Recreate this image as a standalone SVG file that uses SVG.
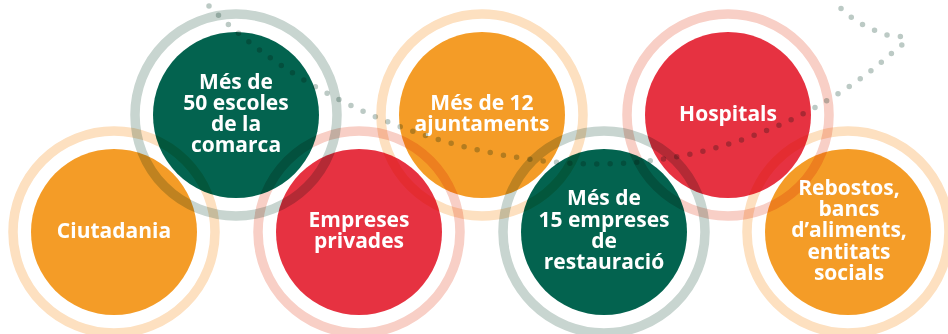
<svg xmlns="http://www.w3.org/2000/svg" width="948" height="334" viewBox="0 0 948 334">
<style>
.fill{mix-blend-mode:multiply}
.ring{fill:none;stroke-width:9.5;mix-blend-mode:multiply}
.o .fill{fill:#F49C27}.o .ring{stroke:#FDE0C0}
.r .fill{fill:#E63241}.r .ring{stroke:#F8CFC6}
.g .fill{fill:#03634F}.g .ring{stroke:#C8D5D0}
text{font-family:"Open Sans","Noto Sans","Liberation Sans",sans-serif;font-weight:700;font-size:21px;fill:#FFFFFF;text-anchor:middle}
.dots{fill:none;stroke:#BCCAC5;stroke-width:5.5;stroke-linecap:round;stroke-dasharray:0 13.4;mix-blend-mode:multiply}
</style>
<rect width="948" height="334" fill="#FFFFFF"/>
<g id="n1" class="o"><circle class="fill" cx="114" cy="232" r="83"/><circle class="ring" cx="114" cy="232" r="101"/><text x="114" y="238">Ciutadania</text></g>
<g id="n2" class="g"><circle class="fill" cx="236" cy="115" r="83"/><circle class="ring" cx="236" cy="115" r="101"/><text x="236" y="89">Més de</text><text x="236" y="110">50 escoles</text><text x="236" y="131">de la</text><text x="236" y="152">comarca</text></g>
<g id="n3" class="r"><circle class="fill" cx="359" cy="232" r="83"/><circle class="ring" cx="359" cy="232" r="101"/><text x="359" y="227">Empreses</text><text x="359" y="248">privades</text></g>
<g id="n4" class="o"><circle class="fill" cx="482" cy="115" r="83"/><circle class="ring" cx="482" cy="115" r="101"/><text x="482" y="110">Més de 12</text><text x="482" y="131">ajuntaments</text></g>
<g id="n5" class="g"><circle class="fill" cx="604" cy="232" r="83"/><circle class="ring" cx="604" cy="232" r="101"/><text x="604" y="205">Més de</text><text x="604" y="227">15 empreses</text><text x="604" y="248">de</text><text x="604" y="269">restauració</text></g>
<g id="n6" class="r"><circle class="fill" cx="728" cy="115" r="83"/><circle class="ring" cx="728" cy="115" r="101"/><text x="728" y="121">Hospitals</text></g>
<g id="n7" class="o"><circle class="fill" cx="848" cy="232" r="83"/><circle class="ring" cx="848" cy="232" r="101"/><text x="849" y="195">Rebostos,</text><text x="849" y="216">bancs</text><text x="849" y="237">d’aliments,</text><text x="849" y="259">entitats</text><text x="849" y="280">socials</text></g>
<g id="connectors">
<path class="dots" d="M209,6 C290,88 430,160 590,164 C720,166 830,110 893,52 Q918,34 893,37 C870,30 850,20 834,1"/>
</g>
</svg>
